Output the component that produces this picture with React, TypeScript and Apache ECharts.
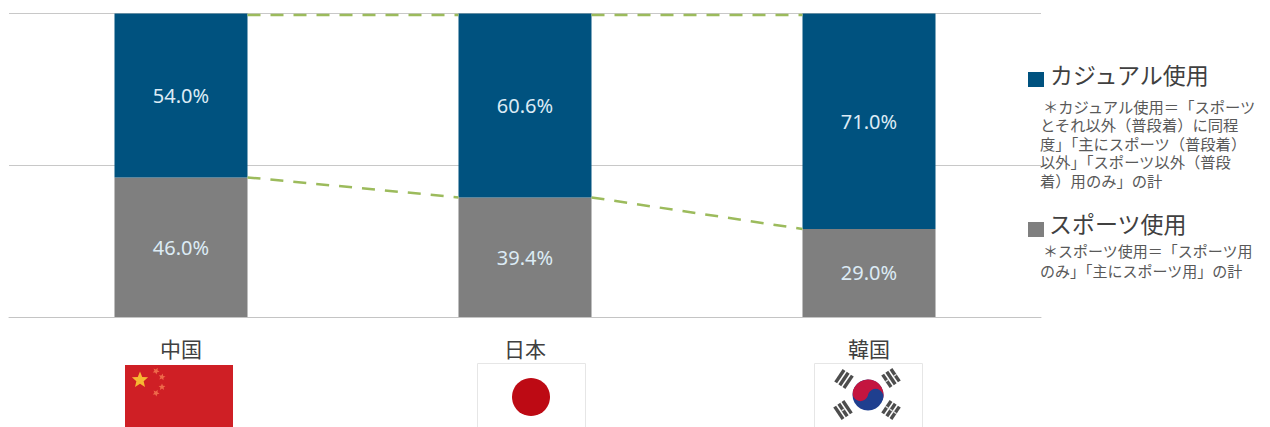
import React, { useEffect, useRef } from "react";
import * as echarts from "echarts";

const categories = ["中国", "日本", "韓国"];
const sportsUse = [46.0, 39.4, 29.0];
const casualUse = [54.0, 60.6, 71.0];
const casualTitle = "カジュアル使用";
const sportsTitle = "スポーツ使用";
const casualNote = [
  "＊カジュアル使用＝「スポーツ",
  "とそれ以外（普段着）に同程",
  "度」「主にスポーツ（普段着）",
  "以外」「スポーツ以外（普段",
  "着）用のみ」の計",
];
const sportsNote = ["＊スポーツ使用＝「スポーツ用", "のみ」「主にスポーツ用」の計"];

const FONT = '"Noto Sans CJK JP", "Noto Sans", sans-serif';
const NOTE_FONT = '"Liberation Sans", "Noto Sans CJK JP", sans-serif';
const BLUE = "#00527f";
const GRAY = "#7f7f7f";
const GREEN = "#9cbb5c";
const BAR_W = 133;

function star(cx: number, cy: number, r: number, rot: number, fill: string) {
  const points: number[][] = [];
  for (let i = 0; i < 10; i++) {
    const rad = i % 2 ? r * 0.45 : r;
    const a = rot - Math.PI / 2 + (i * Math.PI) / 5;
    points.push([cx + rad * Math.cos(a), cy + rad * Math.sin(a)]);
  }
  return { type: "polygon", shape: { points }, style: { fill } };
}

function trigram(x: number, y: number, rotation: number, slits: boolean[]) {
  const children: any[] = [];
  slits.forEach((s, i) => {
    const oy = (i - 1) * 5 - 1.7;
    children.push({ type: "rect", shape: { x: -7.5, y: oy, width: 15, height: 3.4 }, style: { fill: "#4d4d4d" } });
    if (s) children.push({ type: "rect", shape: { x: -0.7, y: oy, width: 1.4, height: 3.4 }, style: { fill: "#d8d8d8" } });
  });
  return { type: "group", x, y, rotation, children };
}

function flags(): any[] {
  const rot = (56 * Math.PI) / 180;
  const kx = 868;
  const ky = 395;
  const kr = 15.5;
  const tilt = (12 * Math.PI) / 180;
  return [
    { type: "rect", shape: { x: 125, y: 365, width: 108, height: 62 }, style: { fill: "#cf1f25" } },
    star(140, 380, 8.5, 0, "#f7b733"),
    star(156, 371, 3.6, 0.5, "#ee6a4a"),
    star(162, 377, 3.6, 0.2, "#ee6a4a"),
    star(162, 387, 3.6, 0, "#ee6a4a"),
    star(156, 393, 3.6, 0.5, "#ee6a4a"),

    { type: "rect", shape: { x: 477.5, y: 363.5, width: 108, height: 70 }, style: { fill: "#ffffff", stroke: "#e6e6e6", lineWidth: 1 } },
    { type: "circle", shape: { cx: 531, cy: 397, r: 19 }, style: { fill: "#bd0a14" } },

    { type: "rect", shape: { x: 814.5, y: 363.5, width: 108, height: 70 }, style: { fill: "#ffffff", stroke: "#e6e6e6", lineWidth: 1 } },
    { type: "circle", shape: { cx: kx, cy: ky, r: kr }, style: { fill: "#1f3f8f" } },
    {
      type: "sector",
      shape: { cx: kx, cy: ky, r: kr, r0: 0, startAngle: Math.PI + tilt, endAngle: 2 * Math.PI + tilt },
      style: { fill: "#c4153f" },
    },
    { type: "circle", shape: { cx: kx - (kr / 2) * Math.cos(tilt), cy: ky - (kr / 2) * Math.sin(tilt), r: kr / 2 }, style: { fill: "#c4153f" } },
    { type: "circle", shape: { cx: kx + (kr / 2) * Math.cos(tilt), cy: ky + (kr / 2) * Math.sin(tilt), r: kr / 2 }, style: { fill: "#1f3f8f" } },
    trigram(844, 379, rot, [false, false, false]),
    trigram(891, 378, -rot, [true, false, true]),
    trigram(843, 410, -rot, [false, true, false]),
    trigram(891, 410, rot, [true, true, true]),
  ];
}

function legend(): any[] {
  const out: any[] = [
    { type: "rect", shape: { x: 1028, y: 72, width: 16, height: 15 }, style: { fill: BLUE } },
    { type: "rect", shape: { x: 1028, y: 222, width: 16, height: 15 }, style: { fill: GRAY } },
    { type: "text", x: 1050, y: 74, style: { text: casualTitle, font: `23px ${FONT}`, fill: "#404040", verticalAlign: "middle" } },
    { type: "text", x: 1049, y: 223, style: { text: sportsTitle, font: `23px ${FONT}`, fill: "#404040", verticalAlign: "middle" } },
  ];
  casualNote.forEach((t, i) =>
    out.push({ type: "text", x: i === 0 ? 1043 : 1040, y: 107 + i * 18.5, style: { text: t, font: `15.3px ${NOTE_FONT}`, fill: "#595959", verticalAlign: "middle" } })
  );
  sportsNote.forEach((t, i) =>
    out.push({ type: "text", x: i === 0 ? 1043 : 1040, y: 251.5 + i * 20, style: { text: t, font: `15px ${NOTE_FONT}`, fill: "#595959", verticalAlign: "middle" } })
  );
  return out;
}

export default function App() {
  const ref = useRef<HTMLDivElement>(null);
  useEffect(() => {
    document.body.style.margin = "0";
    const chart = echarts.init(ref.current!, undefined, { renderer: "svg" });
    const stackTops = sportsUse.map((v, i) => v + casualUse[i]);
    const links: number[][] = [];
    for (let i = 0; i < categories.length - 1; i++) {
      links.push([i, sportsUse[i], sportsUse[i + 1], 0]);
      links.push([i, stackTops[i], stackTops[i + 1], 1.5]);
    }
    const label = {
      show: true,
      position: "inside" as const,
      color: "#dcebf5",
      fontSize: 20,
      fontFamily: '"Noto Sans", sans-serif',
      formatter: (p: any) => `${Number(p.value).toFixed(1)}%`,
    };
    chart.setOption({
      animation: false,
      backgroundColor: "#ffffff",
      grid: { left: 9, right: 229, top: 13.5, height: 303.5, containLabel: false },
      xAxis: {
        type: "category",
        data: categories,
        axisLine: { lineStyle: { color: "#c4c4c4", width: 1 } },
        axisTick: { show: false },
        axisLabel: { color: "#404040", fontSize: 21, fontFamily: FONT, margin: 20 },
      },
      yAxis: {
        type: "value",
        min: 0,
        max: 100,
        interval: 50,
        axisLine: { show: false },
        axisTick: { show: false },
        axisLabel: { show: false },
        splitLine: { lineStyle: { color: "#c8c8c8", width: 1 } },
      },
      series: [
        { name: sportsTitle, type: "bar", stack: "s", barWidth: BAR_W, data: sportsUse, itemStyle: { color: GRAY }, label },
        { name: casualTitle, type: "bar", stack: "s", barWidth: BAR_W, data: casualUse, itemStyle: { color: BLUE }, label },
        {
          type: "custom",
          clip: false,
          z: 5,
          data: links,
          encode: { x: 0, y: 1 },
          renderItem: (_p: any, api: any) => {
            const i = api.value(0);
            const a = api.coord([i, api.value(1)]);
            const b = api.coord([i + 1, api.value(2)]);
            const off = api.value(3);
            return {
              type: "line",
              shape: { x1: a[0] + BAR_W / 2, y1: a[1] + off, x2: b[0] - BAR_W / 2, y2: b[1] + off },
              style: { stroke: GREEN, lineWidth: 2.5, lineDash: [13, 10], fill: "none" },
            };
          },
        },
      ],
      graphic: { elements: [...flags(), ...legend()] },
    });
    return () => chart.dispose();
  }, []);
  return <div ref={ref} style={{ width: 1270, height: 427 }} />;
}
